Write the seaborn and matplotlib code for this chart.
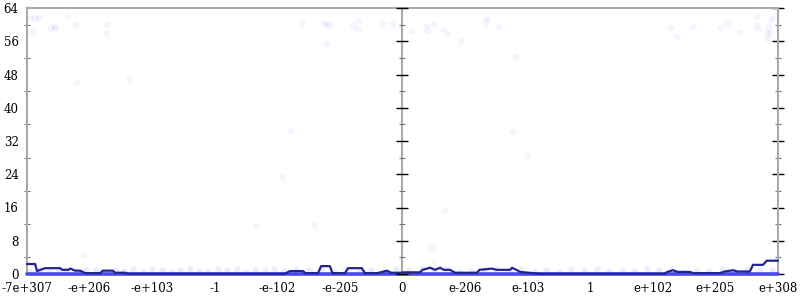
import matplotlib
matplotlib.use('Agg')
import matplotlib.pyplot as plt
import seaborn as sns

# ---- data ----
xtick_labels = ['-7e+307', '-e+206', '-e+103', '-1', '-e-102', '-e-205', '0',
                'e-206', 'e-103', '1', 'e+102', 'e+205', 'e+308']
y_major = [0, 8, 16, 24, 32, 40, 48, 56, 64]
y_minor = [4, 12, 20, 28, 36, 44, 52, 60]

# scattered high-error samples
far_x = [0.05, 0.13, 0.19, 0.06, 0.37, 0.43, 0.45, 0.66, 0.77, 1.28, 1.26, 0.80, 1.63,
         4.39, 4.75, 4.78, 4.83, 5.21, 5.29, 5.29, 4.78, 5.70, 5.85, 6.15, 6.39, 6.39,
         6.50, 6.65, 6.71, 6.94, 7.33, 7.35, 7.54,
         10.27, 10.39, 10.64, 11.09, 11.20, 11.38, 11.65, 11.67, 11.68, 11.86, 11.83,
         11.87, 11.83, 11.89, 11.94,
         4.22, 4.07, 3.66, 4.59, 6.68, 7.77, 7.99, 6.47, 7.80, 0.89, 6.49]
far_y = [61.6, 61.6, 61.6, 58.2, 59.2, 59.7, 59.2, 62.1, 59.9, 60.2, 58.0, 46.2, 46.9,
         60.4, 60.4, 60.2, 59.9, 59.7, 60.9, 59.0, 55.3, 60.2, 60.2, 58.5, 59.7, 58.5,
         60.2, 59.0, 57.7, 56.1, 60.6, 61.4, 59.7,
         59.4, 57.0, 59.7, 59.4, 60.2, 58.2, 59.9, 62.1, 59.0, 59.4, 58.0,
         58.0, 56.8, 61.1, 62.1,
         34.6, 23.3, 11.5, 11.8, 15.4, 34.4, 28.6, 6.5, 52.2, 4.6, 2.2]

# low-error samples
low_x = [0.05, 0.2, 0.35, 0.5, 0.62, 0.8, 0.95, 1.1, 1.25, 1.4, 1.55, 1.7, 1.85, 2.0,
         2.15, 2.3, 2.45, 2.6, 2.75, 2.9, 3.05, 3.2, 3.35, 3.5, 3.65, 3.8, 3.95, 4.1,
         4.3, 4.5, 4.7, 4.9, 5.1, 5.3, 5.5, 5.7, 5.9, 6.1, 6.3, 6.5, 6.7, 6.9, 7.1,
         7.3, 7.5, 7.7, 7.9, 8.1, 8.3, 8.5, 8.7, 8.9, 9.1, 9.3, 9.5, 9.7, 9.9, 10.1,
         10.3, 10.5, 10.7, 10.9, 11.1, 11.3, 11.5, 11.7, 11.9]
low_y = [0.8, 1.1, 0.6, 1.2, 0.9, 0.7, 1.3, 0.9, 0.6, 1.0, 0.8, 1.1, 0.7, 1.2,
         0.9, 0.6, 1.0, 1.3, 0.8, 0.7, 1.1, 0.9, 1.2, 0.6, 1.0, 0.8, 1.3, 0.7,
         1.1, 0.9, 1.4, 0.6, 1.2, 0.8, 1.0, 0.7, 1.1, 0.9, 1.3, 0.8, 1.2, 0.6, 1.0,
         0.9, 1.1, 0.7, 1.2, 0.8, 1.0, 0.6, 1.1, 0.9, 1.2, 0.7, 1.0, 0.8, 1.3, 0.9,
         1.1, 0.6, 1.0, 0.8, 1.2, 0.7, 1.1, 0.9, 1.0]

# zero-error band
band_x = [0, 12]
band_y = [0, 0]

# averaged error line
line_x = [0, 0.13, 0.16, 0.29, 0.53, 0.56, 0.66, 0.69, 0.77, 0.85, 0.93, 1.17, 1.21,
          1.37, 1.41, 1.57, 1.62, 4.12, 4.20, 4.41, 4.45, 4.65, 4.70, 4.84, 4.88, 5.08,
          5.13, 5.35, 5.40, 5.59, 5.68, 5.75, 5.82, 5.96, 6.02, 6.28, 6.32, 6.44, 6.52,
          6.60, 6.66, 6.76, 6.84, 7.19, 7.23, 7.43, 7.50, 7.72, 7.75, 7.82, 7.88, 8.20,
          10.19, 10.23, 10.32, 10.40, 10.59, 10.65, 11.07, 11.15, 11.28, 11.35, 11.55,
          11.60, 11.76, 11.82, 12.0]
line_y = [2.4, 2.4, 0.7, 1.4, 1.4, 1.0, 1.0, 1.3, 0.8, 0.8, 0.2, 0.2, 0.8,
          0.8, 0.3, 0.3, 0.05, 0.05, 0.7, 0.7, 0.2, 0.2, 1.9, 1.9, 0.2, 0.2,
          1.4, 1.4, 0.2, 0.2, 0.5, 0.8, 0.3, 0.3, 0.4, 0.4, 1.0, 1.5, 1.0,
          1.5, 1.0, 1.0, 0.3, 0.3, 1.0, 1.3, 1.0, 1.0, 1.5, 1.0, 0.5, 0.05,
          0.05, 0.5, 0.9, 0.5, 0.5, 0.2, 0.2, 0.6, 0.9, 0.6, 0.6,
          2.2, 2.2, 3.2, 3.2]

# ---- plot ----
sns.set_style('white')
plt.rcParams['font.family'] = ['DejaVu Serif']

fig = plt.figure(figsize=(8, 3), dpi=100)
ax = fig.add_axes([27 / 800, 26 / 300, 751 / 800, 266 / 300])

sns.scatterplot(x=far_x, y=far_y, color='#0000ff', alpha=0.035, s=18,
                linewidth=0.6, edgecolor='#0000ff', ax=ax, zorder=2)
sns.scatterplot(x=low_x, y=low_y, color='#3333ff', alpha=0.09, s=20,
                linewidth=0, ax=ax, zorder=2)
sns.lineplot(x=band_x, y=band_y, color='#4848ee', linewidth=2.6, ax=ax,
             zorder=3, clip_on=False)
sns.lineplot(x=line_x, y=line_y, color='#23238f', linewidth=1.6, ax=ax,
             zorder=4, clip_on=False, sort=False)

ax.set_xlim(0, 12)
ax.set_ylim(0, 64)
ax.set_xticks(range(13))
ax.set_xticklabels(xtick_labels)
ax.set_yticks(y_major)
ax.set_yticks(y_minor, minor=True)
ax.set_xlabel('')
ax.set_ylabel('')

ax.tick_params(axis='both', which='major', direction='inout', length=8, width=1,
               color='black', labelsize=8.5, pad=2, labelcolor='black')
ax.tick_params(axis='y', which='major', right=True)
ax.tick_params(axis='y', which='minor', direction='inout', length=5, width=0.8,
               color='#777777', left=True, right=True)

for side in ['left', 'right', 'top']:
    ax.spines[side].set_color('#aaaaaa')
    ax.spines[side].set_linewidth(1.5)
ax.spines['bottom'].set_visible(False)

# middle axis at zero
ax.axvline(6, color='#aaaaaa', linewidth=1.5, zorder=1)
ax.plot([6] * len(y_major), y_major, marker='_', ms=8, mew=1, color='black',
        ls='none', clip_on=False, zorder=5)
ax.plot([6] * len(y_minor), y_minor, marker='_', ms=5, mew=0.8, color='#777777',
        ls='none', clip_on=False, zorder=5)

fig.savefig('out.png', dpi=100)
